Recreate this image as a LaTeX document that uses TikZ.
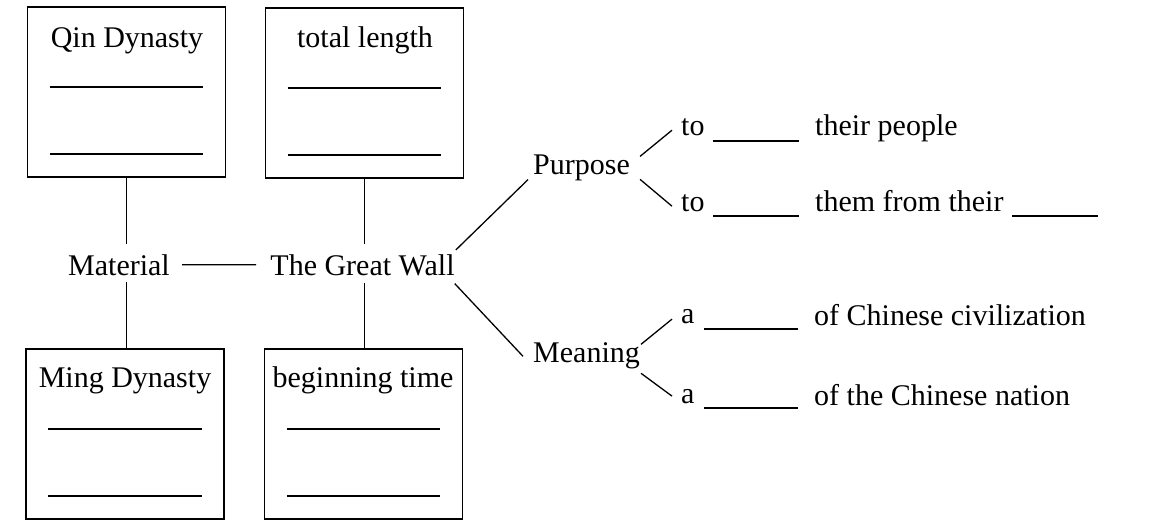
\documentclass[tikz,border=0pt]{standalone}
\usepackage{fontspec}
\setmainfont{Liberation Serif}
\begin{document}
\begin{tikzpicture}[x=1pt,y=-1pt,
  every node/.style={font=\fontsize{30}{36}\selectfont},
  box/.style={draw, line width=1.8pt, minimum width=198pt, minimum height=170pt, inner sep=0pt},
  lab/.style={inner sep=0pt},
  conn/.style={line width=1.3pt},
  blank/.style={line width=1.7pt}]
\useasboundingbox[fill=white] (0,0) rectangle (1151,528);
% boxes
\node[box] (qin) at (126.5,92) {};
\node[box] (len) at (364.5,93) {};
\node[box] (ming) at (125,434) {};
\node[box] (beg) at (363.5,434) {};
% box titles
\node[lab, anchor=base] (qint) at (127,47) {Qin Dynasty};
\node[lab, anchor=base] (lent) at (365,47) {total length};
\node[lab, anchor=base] (mingt) at (125,387) {Ming Dynasty};
\node[lab, anchor=base] (begt) at (363,387) {beginning time};
% box blanks
\foreach \b in {qin,len,ming,beg}{
  \draw[blank] ([shift={(23,81)}]\b.north west) -- ([shift={(-23,81)}]\b.north east);
  \draw[blank] ([shift={(23,148)}]\b.north west) -- ([shift={(-23,148)}]\b.north east);
}
% centre
\node[lab, anchor=base] (mat) at (119,275) {Material};
\node[lab, anchor=base] (gw) at (362.5,275) {The Great Wall};
\draw[conn, shorten <=12pt, shorten >=14pt] (mat.east) -- (gw.west);
\draw[conn, shorten >=9.5pt] (qin.south) -- (qin.south |- mat.north);
\draw[conn, shorten <=7pt] (qin.south |- mat.south) -- (qin.south |- ming.north);
\draw[conn, shorten >=9.5pt] (len.south) -- (len.south |- gw.north);
\draw[conn, shorten <=7pt] (len.south |- gw.south) -- (len.south |- beg.north);
% purpose
\node[lab, anchor=base west] (pur) at (533,174) {Purpose};
\node[lab, anchor=base west] (to1) at (681,135) {to};
\node[lab, anchor=base west] (tp) at (815,135) {their people};
\node[lab, anchor=base west] (to2) at (681,211) {to};
\node[lab, anchor=base west] (tf) at (815,211) {them from their};
\draw[blank] (713,141) -- (799,141);
\draw[blank] (713,216) -- (799,216);
\draw[blank] (1012,216) -- (1098,216);
\draw[conn] ([shift={(1,-4)}]gw.north east) -- ([shift={(-5,-1)}]pur.south west);
\draw[conn] ([shift={(10,-11)}]pur.east) -- ([shift={(-9,3.5)}]to1.west);
\draw[conn] ([shift={(10,12)}]pur.east) -- ([shift={(-9,3.5)}]to2.west);
% meaning
\node[lab, anchor=base west] (mea) at (533,362) {Meaning};
\node[lab, anchor=base west] (a1) at (681,323) {a};
\node[lab, anchor=base west] (cc) at (814,325) {of Chinese civilization};
\node[lab, anchor=base west] (a2) at (681,403) {a};
\node[lab, anchor=base west] (cn) at (814,405) {of the Chinese nation};
\draw[blank] (704,329) -- (798,329);
\draw[blank] (704,408) -- (798,408);
\draw[conn] ([shift={(0,8)}]gw.south east) -- ([shift={(-10,1)}]mea.west);
\draw[conn] ([shift={(1,-11)}]mea.east) -- ([shift={(-9,3)}]a1.west);
\draw[conn] ([shift={(1,18)}]mea.east) -- ([shift={(-9,0)}]a2.west);
\end{tikzpicture}
\end{document}
